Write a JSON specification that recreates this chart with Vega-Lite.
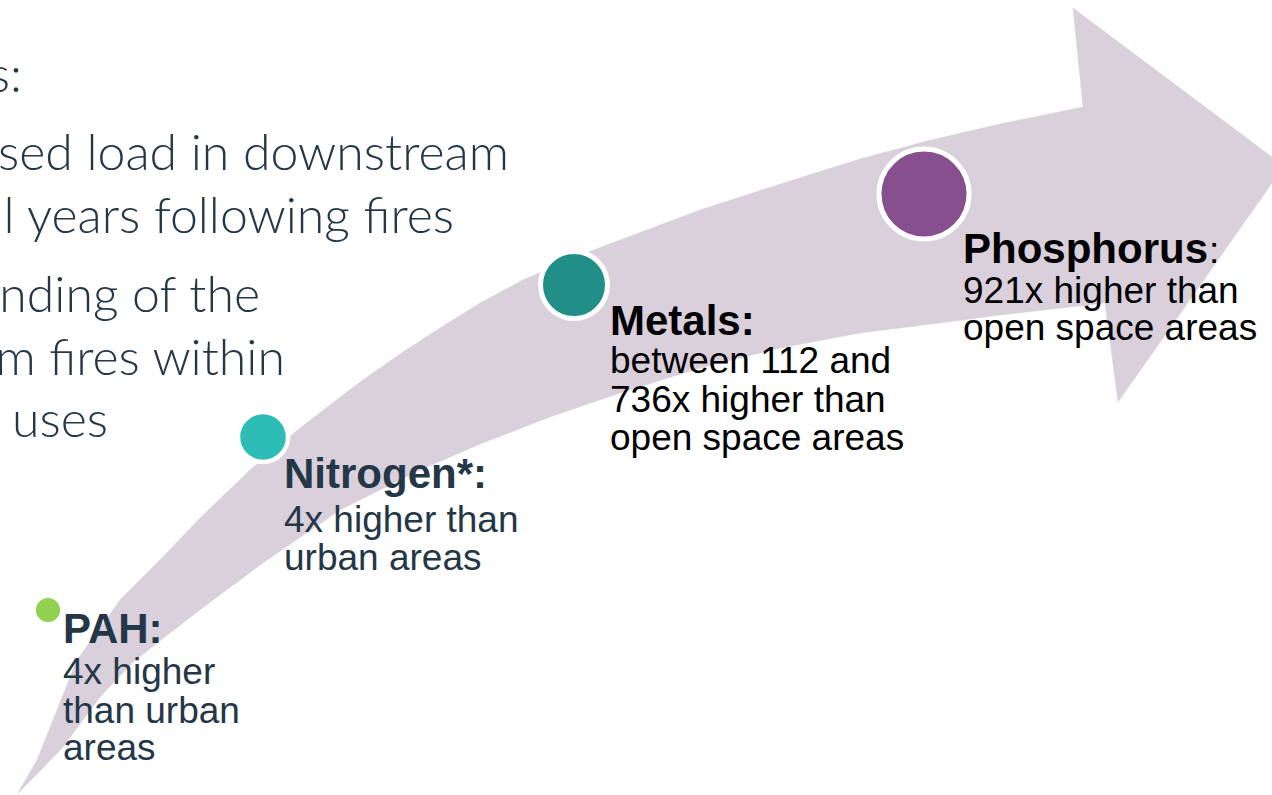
{
  "$schema": "https://vega.github.io/schema/vega-lite/v6.json",
  "width": 1272,
  "height": 795,
  "autosize": {"type": "fit", "contains": "padding"},
  "padding": 0,
  "background": "#ffffff",
  "config": {"view": {"stroke": null}},
  "datasets": {
    "arrow": [
      {"i": 1, "x": 18, "y": 793}, {"i": 2, "x": 37, "y": 760}, {"i": 3, "x": 77, "y": 660},
      {"i": 4, "x": 120, "y": 600}, {"i": 5, "x": 160, "y": 560}, {"i": 6, "x": 200, "y": 518},
      {"i": 7, "x": 250, "y": 470}, {"i": 8, "x": 300, "y": 428}, {"i": 9, "x": 360, "y": 382},
      {"i": 10, "x": 400, "y": 354}, {"i": 11, "x": 440, "y": 328}, {"i": 12, "x": 480, "y": 303},
      {"i": 13, "x": 523, "y": 280}, {"i": 14, "x": 570, "y": 259}, {"i": 15, "x": 620, "y": 240},
      {"i": 16, "x": 700, "y": 210}, {"i": 17, "x": 793, "y": 180}, {"i": 18, "x": 860, "y": 159},
      {"i": 19, "x": 927, "y": 141}, {"i": 20, "x": 1000, "y": 124}, {"i": 21, "x": 1083, "y": 107},
      {"i": 22, "x": 1073, "y": 8}, {"i": 23, "x": 1284, "y": 166}, {"i": 24, "x": 1118, "y": 402},
      {"i": 25, "x": 1105, "y": 303}, {"i": 26, "x": 1000, "y": 315}, {"i": 27, "x": 940, "y": 323},
      {"i": 28, "x": 860, "y": 333}, {"i": 29, "x": 780, "y": 348}, {"i": 30, "x": 700, "y": 368},
      {"i": 31, "x": 620, "y": 393}, {"i": 32, "x": 550, "y": 417}, {"i": 33, "x": 480, "y": 444},
      {"i": 34, "x": 420, "y": 470}, {"i": 35, "x": 340, "y": 510}, {"i": 36, "x": 267, "y": 560},
      {"i": 37, "x": 213, "y": 600}, {"i": 38, "x": 170, "y": 633}, {"i": 39, "x": 133, "y": 662},
      {"i": 40, "x": 100, "y": 697}, {"i": 41, "x": 63, "y": 747}, {"i": 42, "x": 40, "y": 771}
    ],
    "dots": [
      {"item": "PAH", "x": 48, "y": 610},
      {"item": "Nitrogen", "x": 263, "y": 437},
      {"item": "Metals", "x": 574, "y": 285},
      {"item": "Phosphorus", "x": 924, "y": 194}
    ],
    "titles": [
      {"text": "PAH:", "tone": "slate", "x": 63, "y": 643},
      {"text": "Nitrogen*:", "tone": "slate", "x": 284, "y": 488},
      {"text": "Metals:", "tone": "black", "x": 610, "y": 335},
      {"text": "Phosphorus", "tone": "black", "x": 963, "y": 263}
    ],
    "body": [
      {"text": ":", "tone": "black", "x": 1209, "y": 263},
      {"text": "4x higher", "tone": "slate", "x": 63, "y": 684},
      {"text": "than urban", "tone": "slate", "x": 63, "y": 723},
      {"text": "areas", "tone": "slate", "x": 63, "y": 760},
      {"text": "4x higher than", "tone": "slate", "x": 284, "y": 532},
      {"text": "urban areas", "tone": "slate", "x": 284, "y": 570},
      {"text": "between 112 and", "tone": "black", "x": 610, "y": 373},
      {"text": "736x higher than", "tone": "black", "x": 610, "y": 412},
      {"text": "open space areas", "tone": "black", "x": 610, "y": 450},
      {"text": "921x higher than", "tone": "black", "x": 963, "y": 303},
      {"text": "open space areas", "tone": "black", "x": 963, "y": 340}
    ],
    "slide": [
      {"text": "s:", "x": 22, "y": 92},
      {"text": "sed load in downstream", "x": 509, "y": 170},
      {"text": "al years following fires", "x": 454, "y": 233},
      {"text": "nding of the", "x": 260, "y": 312},
      {"text": "om fires within", "x": 285, "y": 375},
      {"text": "uses", "x": 108, "y": 437}
    ]
  },
  "encoding": {
    "x": {"field": "x", "type": "quantitative", "scale": {"domain": [0, 1272], "nice": false, "zero": false}, "axis": null},
    "y": {"field": "y", "type": "quantitative", "scale": {"domain": [0, 795], "nice": false, "zero": false, "reverse": true}, "axis": null}
  },
  "layer": [
    {
      "data": {"name": "arrow"},
      "mark": {"type": "line", "interpolate": "linear-closed", "fill": "#D9D0DC", "stroke": "#D9D0DC", "strokeWidth": 0.5, "clip": true},
      "encoding": {"order": {"field": "i", "type": "quantitative"}}
    },
    {
      "data": {"name": "dots"},
      "mark": {"type": "point", "shape": "circle", "filled": true, "stroke": "#ffffff", "opacity": 1},
      "encoding": {
        "fill": {"field": "item", "type": "nominal", "scale": {"domain": ["PAH", "Nitrogen", "Metals", "Phosphorus"], "range": ["#92D050", "#2EBDB6", "#218F87", "#884F8E"]}, "legend": null},
        "size": {"field": "item", "type": "nominal", "scale": {"type": "ordinal", "domain": ["PAH", "Nitrogen", "Metals", "Phosphorus"], "range": [660, 2500, 4489, 8100]}, "legend": null},
        "strokeWidth": {"field": "item", "type": "nominal", "scale": {"type": "ordinal", "domain": ["PAH", "Nitrogen", "Metals", "Phosphorus"], "range": [1.5, 4.5, 5, 5]}, "legend": null}
      }
    },
    {
      "data": {"name": "slide"},
      "mark": {"type": "text", "align": "right", "baseline": "alphabetic", "font": "Lato", "fontWeight": 300, "fontSize": 50, "fill": "#243746", "clip": true},
      "encoding": {"text": {"field": "text"}}
    },
    {
      "data": {"name": "titles"},
      "mark": {"type": "text", "align": "left", "baseline": "alphabetic", "font": "Liberation Sans", "fontWeight": "bold", "fontSize": 42},
      "encoding": {
        "text": {"field": "text"},
        "color": {"field": "tone", "type": "nominal", "scale": {"domain": ["slate", "black"], "range": ["#243746", "#000000"]}, "legend": null}
      }
    },
    {
      "data": {"name": "body"},
      "mark": {"type": "text", "align": "left", "baseline": "alphabetic", "font": "Liberation Sans", "fontWeight": "normal", "fontSize": 37},
      "encoding": {
        "text": {"field": "text"},
        "color": {"field": "tone", "type": "nominal", "scale": {"domain": ["slate", "black"], "range": ["#243746", "#000000"]}, "legend": null}
      }
    }
  ]
}
